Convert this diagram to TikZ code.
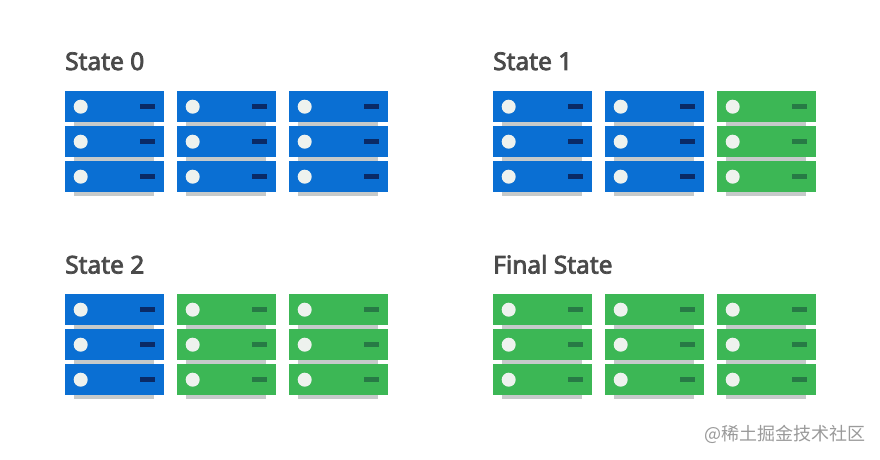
\documentclass[tikz,border=0pt]{standalone}
\usepackage{fontspec}
\setmainfont{Open Sans}
\newfontfamily\titlefont[FakeBold=3]{Noto Sans}
\newfontfamily\cjk{Noto Sans CJK SC}
\definecolor{bluebox}{HTML}{0A6FD3}
\definecolor{bluedash}{HTML}{0A2A66}
\definecolor{greenbox}{HTML}{3CB755}
\definecolor{greendash}{HTML}{277A45}
\definecolor{dotc}{HTML}{EEF2EE}
\definecolor{shelf}{HTML}{C6CACA}
\definecolor{titlec}{HTML}{4A4A4A}
\definecolor{markc}{HTML}{9A9A9A}
\tikzset{
  title/.style={anchor=base west,inner sep=0pt,text=titlec,font=\titlefont\fontsize{24.5}{25}\selectfont},
  shelfbar/.style={fill=shelf,draw=none},
  dot/.style={fill=dotc,draw=none},
  pics/unit/.style n args={2}{code={
    \foreach \yy in {0,35,70}{
      \fill[#1] (0,\yy) rectangle (99,\yy+31);
      \fill[shelfbar] (9,\yy+31) rectangle (89,\yy+35);
      \fill[dot] (15.7,\yy+15.7) circle (7);
      \fill[#2] (75,\yy+13) rectangle (90,\yy+17.5);
    }
  }}
}
\newcommand{\putunit}[3]{\pic at (#1,#2) {unit={#3box}{#3dash}};}
\begin{document}
\begin{tikzpicture}[x=1pt,y=-1pt]
\useasboundingbox (0,0) rectangle (880,460);
\fill[white] (0,0) rectangle (880,460);
\node[title] (t0) at (65,70) {State 0};
\node[title] (t1) at (493,70) {State 1};
\node[title] (t2) at (65,273.5) {State 2};
\node[title] (t3) at (493,273.5) {Final State};
\putunit{65}{91}{blue}\putunit{177}{91}{blue}\putunit{289}{91}{blue}
\putunit{493}{91}{blue}\putunit{605}{91}{blue}\putunit{717}{91}{green}
\putunit{65}{294}{blue}\putunit{177}{294}{green}\putunit{289}{294}{green}
\putunit{493}{294}{green}\putunit{605}{294}{green}\putunit{717}{294}{green}
\node[anchor=base west,inner sep=0pt,text=markc,font=\fontsize{18}{20}\selectfont] (wm) at (704,440) {\cjk @稀土掘金技术社区};
\end{tikzpicture}
\end{document}
